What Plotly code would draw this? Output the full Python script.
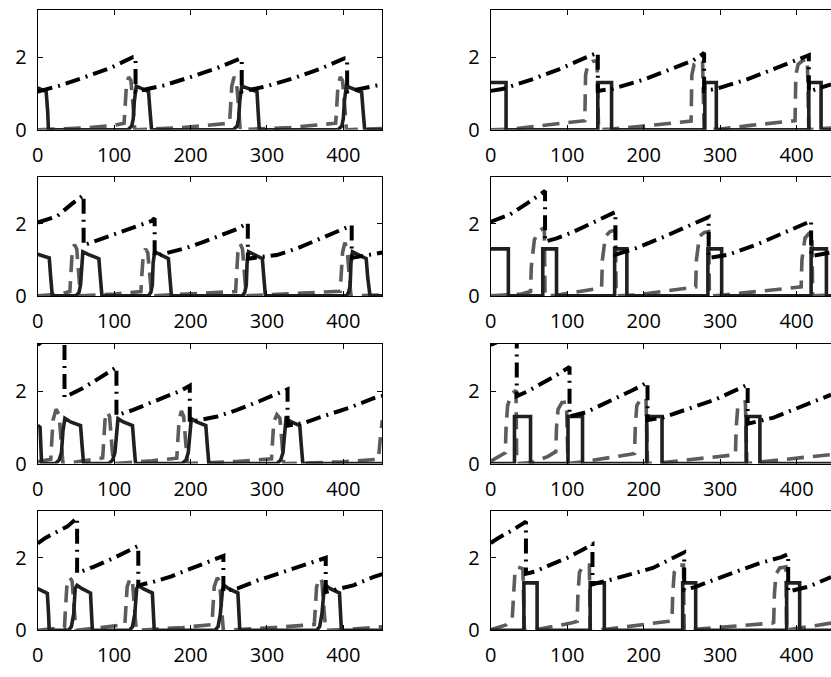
import plotly.graph_objects as go

# ---------------- data ----------------
x_ticks = [0, 100, 200, 300, 400]
y_ticks = [0, 2]

# Panel A (row 1, left)
A_dd_x = [0, 30, 62, 95, 125, 128, 128, 165, 200, 235, 264, 267, 267, 300, 335, 370, 402, 405, 405, 430, 451]
A_dd_y = [1.05, 1.22, 1.45, 1.7, 2.0, 2.0, 1.05, 1.22, 1.45, 1.7, 1.95, 1.95, 1.05, 1.2, 1.42, 1.68, 1.97, 1.97, 1.05, 1.15, 1.25]
A_gd_x = [0, 60, 100, 113, 114, 116, 119, 122, 125, 127, 190, 240, 251, 252, 254, 257, 260, 263, 265, 330, 380, 390, 391, 393, 396, 399, 402, 404, 451]
A_gd_y = [0, 0.05, 0.12, 0.18, 0.5, 1.2, 1.45, 1.35, 0.6, 0, 0.06, 0.14, 0.18, 0.5, 1.2, 1.45, 1.35, 0.6, 0, 0.06, 0.14, 0.18, 0.5, 1.2, 1.45, 1.35, 0.6, 0, 0.03]
A_sl_x = [0, 11, 13, 14, 118, 123, 125, 126.5, 129, 136, 145, 147, 149, 256, 261, 263, 264.5, 267, 275, 287, 288.5, 290, 393, 398, 400, 401.5, 404, 411, 424, 426, 428, 451]
A_sl_y = [1.15, 1.05, 0.5, 0, 0, 0.1, 0.3, 0.8, 1.2, 1.14, 1.05, 0.5, 0, 0, 0.1, 0.3, 0.8, 1.2, 1.14, 1.05, 0.5, 0, 0, 0.1, 0.3, 0.8, 1.2, 1.14, 1.03, 0.5, 0, 0]

# Panel B (row 1, right)
B_dd_x = [0, 15, 56, 90, 129, 138, 140, 140, 160, 200, 235, 264, 277, 279, 279, 296, 337, 376, 405, 414, 416, 416, 445]
B_dd_y = [1.07, 1.12, 1.40, 1.67, 2.03, 2.10, 2.12, 1.07, 1.13, 1.38, 1.65, 1.90, 2.08, 2.12, 1.07, 1.13, 1.40, 1.72, 1.95, 2.03, 2.05, 1.05, 1.25]
B_gd_x = [0, 30, 60, 100, 123, 124, 127, 133, 139, 141, 157, 200, 262, 263, 266, 272, 277, 279, 300, 340, 398, 399, 402, 408, 414, 416, 445]
B_gd_y = [0, 0.02, 0.1, 0.18, 0.25, 1.5, 1.8, 1.88, 1.9, 0, 0.02, 0.1, 0.24, 1.5, 1.8, 1.88, 1.9, 0, 0.02, 0.12, 0.25, 1.5, 1.8, 1.9, 1.95, 0, 0.05]
B_sl_x = [0, 20, 20, 140, 140, 158, 158, 280, 280, 295, 295, 416, 416, 432, 432, 445]
B_sl_y = [1.3, 1.3, 0, 0, 1.3, 1.3, 0, 0, 1.3, 1.3, 0, 0, 1.3, 1.3, 0, 0]

# Panel C (row 2, left)
C_dd_x = [0, 25, 45, 60, 60, 84, 123, 149, 153, 153, 192, 218, 261, 275, 275, 313, 339, 361, 396, 411, 411, 451]
C_dd_y = [2.03, 2.2, 2.55, 2.79, 1.40, 1.58, 1.89, 2.07, 2.15, 1.1, 1.31, 1.50, 1.85, 2.02, 1.03, 1.13, 1.31, 1.5, 1.82, 1.95, 1.05, 1.2]
C_gd_x = [0, 30, 42, 43, 45, 48, 51, 54, 56, 100, 135, 136, 138, 141, 144, 147, 149, 210, 259, 260, 262, 265, 268, 271, 273, 340, 396, 397, 399, 402, 405, 408, 410, 451]
C_gd_y = [0, 0.05, 0.12, 0.5, 1.2, 1.42, 1.3, 0.5, 0, 0.05, 0.12, 0.5, 1.1, 1.3, 1.2, 0.5, 0, 0.07, 0.12, 0.5, 1.2, 1.44, 1.3, 0.5, 0, 0.07, 0.13, 0.5, 1.2, 1.47, 1.3, 0.5, 0, 0.03]
C_sl_x = [0, 15, 17, 19, 50, 54, 56, 57.5, 59, 66, 80, 82, 84, 145, 148, 150, 151, 153, 160, 171, 173, 175,
          268, 271, 273, 274, 276, 283, 294, 296, 298, 404, 407, 409, 410, 412, 419, 430, 432, 435, 451]
C_sl_y = [1.15, 1.05, 0.5, 0, 0, 0.1, 0.3, 0.9, 1.22, 1.15, 1.03, 0.5, 0, 0, 0.1, 0.3, 0.9, 1.22, 1.15, 1.03, 0.5, 0,
          0, 0.1, 0.3, 0.9, 1.22, 1.15, 1.03, 0.5, 0, 0, 0.1, 0.3, 0.9, 1.22, 1.15, 1.03, 0.5, 0, 0]

# Panel D (row 2, right)
D_dd_x = [0, 25, 47, 71, 71, 86, 108, 147, 163, 163, 190, 225, 259, 285, 285, 311, 350, 385, 419, 419, 445]
D_dd_y = [2.05, 2.25, 2.55, 2.9, 1.5, 1.59, 1.77, 2.15, 2.32, 1.14, 1.32, 1.62, 1.93, 2.18, 1.05, 1.14, 1.44, 1.77, 2.07, 1.1, 1.2]
D_gd_x = [0, 40, 52, 53, 57, 63, 70, 71, 86, 138, 145, 146, 150, 156, 163, 164, 192, 261, 268, 269, 273, 279, 285, 286,
          302, 398, 406, 407, 411, 416, 420, 421, 445]
D_gd_y = [0, 0.05, 0.12, 0.8, 1.55, 1.8, 1.88, 0, 0.02, 0.2, 0.25, 1.0, 1.65, 1.78, 1.82, 0, 0.03, 0.23, 0.25, 1.0, 1.65, 1.75, 1.78, 0,
          0.02, 0.23, 0.25, 1.0, 1.6, 1.72, 1.78, 0, 0.02]
D_sl_x = [0, 23, 23, 68, 68, 86, 86, 162, 162, 178, 178, 284, 284, 302, 302, 419, 419, 439, 439, 445]
D_sl_y = [1.3, 1.3, 0, 0, 1.3, 1.3, 0, 0, 1.3, 1.3, 0, 0, 1.3, 1.3, 0, 0, 1.3, 1.3, 0, 0]

# Panel E (row 3, left)
E_dd_x = [0, 35, 35, 58, 80, 103, 103, 125, 149, 186, 199, 199, 235, 261, 290, 327, 327, 348, 370, 409, 439, 451]
E_dd_y = [3.27, 3.9, 1.83, 2.07, 2.35, 2.66, 1.33, 1.48, 1.69, 2.0, 2.15, 1.15, 1.3, 1.48, 1.72, 2.05, 1.05, 1.12, 1.28, 1.55, 1.8, 1.87]
E_gd_x = [0, 15, 17, 18, 20, 24, 28, 31, 33, 75, 85, 86, 88, 91, 94, 97, 99, 150, 182, 183, 185, 188, 191, 194, 196,
          260, 306, 307, 309, 313, 317, 320, 322, 400, 446, 448, 451]
E_gd_y = [0.05, 0.1, 0.12, 0.5, 1.2, 1.5, 1.35, 0.5, 0, 0.12, 0.16, 0.5, 1.2, 1.43, 1.3, 0.5, 0, 0.08, 0.15, 0.5, 1.2, 1.45, 1.3, 0.5, 0,
          0.06, 0.13, 0.5, 1.15, 1.35, 1.25, 0.5, 0, 0.05, 0.12, 0.6, 1.2]
E_sl_x = [0, 3, 5, 23, 28, 31, 33, 35.5, 43, 56, 58, 60, 93, 98, 101, 103, 105, 112, 124, 126, 128,
          189, 194, 197, 199, 201, 208, 220, 222, 224, 313, 318, 321, 323, 325, 332, 343, 345, 347, 451]
E_sl_y = [1.06, 1.0, 0, 0, 0.1, 0.3, 0.9, 1.25, 1.15, 1.05, 0.5, 0, 0, 0.1, 0.3, 0.9, 1.24, 1.15, 1.05, 0.5, 0,
          0, 0.1, 0.3, 0.9, 1.24, 1.15, 1.05, 0.5, 0, 0, 0.1, 0.3, 0.9, 1.24, 1.15, 1.05, 0.5, 0, 0]

# Panel F (row 3, right)
F_dd_x = [0, 34, 34, 49, 64, 83, 101, 103, 103, 125, 147, 173, 186, 205, 205, 225, 250, 294, 324, 336, 336, 370, 389, 411, 445]
F_dd_y = [3.27, 3.6, 1.86, 2.0, 2.18, 2.4, 2.64, 2.67, 1.3, 1.42, 1.64, 1.88, 2.03, 2.24, 1.2, 1.27, 1.45, 1.77, 2.06, 2.18, 1.1, 1.27, 1.43, 1.61, 1.9]
F_gd_x = [0, 15, 19, 20, 22, 27, 33, 34, 54, 75, 85, 86, 88, 93, 99, 101, 120, 181, 188, 189, 191, 196, 203, 205,
          225, 318, 320, 321, 323, 328, 333, 335, 355, 445]
F_gd_y = [0.07, 0.25, 0.3, 1.0, 1.6, 1.92, 2.02, 0, 0.03, 0.2, 0.33, 1.0, 1.5, 1.68, 1.7, 0, 0.05, 0.25, 0.28, 1.0, 1.6, 1.78, 1.8, 0,
          0.03, 0.24, 0.26, 1.0, 1.55, 1.68, 1.7, 0, 0.05, 0.25]
F_sl_x = [0, 31, 31, 52, 52, 101, 101, 120, 120, 204, 204, 224, 224, 334, 334, 352, 352, 445]
F_sl_y = [0, 0, 1.3, 1.3, 0, 0, 1.3, 1.3, 0, 0, 1.3, 1.3, 0, 0, 1.3, 1.3, 0, 0]

# Panel G (row 4, left)
G_dd_x = [0, 10, 28, 38.5, 51.5, 51.5, 73, 100, 131.6, 131.6, 150, 175, 194, 220, 243, 243, 261, 287, 339, 368, 377, 377, 413, 439, 451]
G_dd_y = [2.4, 2.55, 2.75, 2.86, 3.1, 1.58, 1.75, 2.0, 2.33, 1.24, 1.33, 1.49, 1.65, 1.87, 2.05, 1.08, 1.15, 1.37, 1.74, 1.96, 2.0, 1.06, 1.24, 1.47, 1.55]
G_gd_x = [0, 30, 35, 36, 38, 42, 45, 48, 50, 80, 114, 115, 117, 121, 124, 127, 129, 190, 228, 229, 231, 235, 238, 241, 243,
          310, 362, 363, 365, 369, 372, 375, 377, 410, 451]
G_gd_y = [0, 0.05, 0.08, 0.5, 1.2, 1.46, 1.35, 0.5, 0, 0.07, 0.16, 0.5, 1.2, 1.44, 1.35, 0.5, 0, 0.08, 0.16, 0.5, 1.2, 1.45, 1.35, 0.5, 0,
          0.08, 0.16, 0.5, 1.2, 1.45, 1.35, 0.5, 0, 0.03, 0.1]
G_sl_x = [0, 12.5, 14, 15, 40, 44, 47, 49, 51.5, 58, 69, 70.5, 71.5, 120, 124, 127, 129.5, 131.6, 138, 150, 151.5, 152.5,
          232, 236, 239, 242, 244, 250, 262, 263.5, 264.5, 365, 369, 372, 375, 377, 383, 395, 396.5, 397.5, 451]
G_sl_y = [1.15, 1.02, 0.5, 0, 0, 0.1, 0.45, 1.15, 1.24, 1.15, 1.03, 0.5, 0, 0, 0.1, 0.45, 1.15, 1.24, 1.15, 1.03, 0.5, 0,
          0, 0.1, 0.45, 1.15, 1.24, 1.15, 1.03, 0.5, 0, 0, 0.1, 0.45, 1.15, 1.24, 1.15, 1.03, 0.5, 0, 0]

# Panel H (row 4, right)
H_dd_x = [0, 10, 29, 37, 46, 46, 58, 75, 100, 133, 133, 161, 187, 212, 250, 253, 253, 268, 290, 350, 380, 389, 389, 415, 445]
H_dd_y = [2.41, 2.55, 2.77, 2.88, 3.0, 1.56, 1.62, 1.78, 2.0, 2.37, 1.27, 1.42, 1.56, 1.72, 2.12, 2.15, 1.12, 1.2, 1.38, 1.84, 2.02, 2.1, 1.07, 1.2, 1.47]
H_gd_x = [0, 20, 28, 30, 31.5, 35, 42, 44, 62, 105, 113, 114, 116, 121, 129, 130, 151, 233, 237, 238, 240, 245, 252, 253,
          268, 368, 370, 371, 373, 378, 386, 387, 391, 445]
H_gd_y = [0.02, 0.15, 0.3, 1.0, 1.56, 1.75, 1.7, 0, 0.03, 0.2, 0.25, 1.0, 1.6, 1.8, 1.8, 0, 0.03, 0.25, 0.27, 1.0, 1.6, 1.8, 1.8, 0,
          0.03, 0.2, 0.22, 1.0, 1.55, 1.72, 1.75, 0, 0.02, 0.2]
H_sl_x = [0, 43.3, 43.3, 60.6, 60.6, 130, 130, 148.5, 148.5, 251, 251, 268, 268, 387, 387, 404, 404, 445]
H_sl_y = [0, 0, 1.31, 1.31, 0, 0, 1.31, 1.31, 0, 0, 1.31, 1.31, 0, 0, 1.31, 1.31, 0, 0]

panels = [
    (A_dd_x, A_dd_y, A_gd_x, A_gd_y, A_sl_x, A_sl_y),
    (B_dd_x, B_dd_y, B_gd_x, B_gd_y, B_sl_x, B_sl_y),
    (C_dd_x, C_dd_y, C_gd_x, C_gd_y, C_sl_x, C_sl_y),
    (D_dd_x, D_dd_y, D_gd_x, D_gd_y, D_sl_x, D_sl_y),
    (E_dd_x, E_dd_y, E_gd_x, E_gd_y, E_sl_x, E_sl_y),
    (F_dd_x, F_dd_y, F_gd_x, F_gd_y, F_sl_x, F_sl_y),
    (G_dd_x, G_dd_y, G_gd_x, G_gd_y, G_sl_x, G_sl_y),
    (H_dd_x, H_dd_y, H_gd_x, H_gd_y, H_sl_x, H_sl_y),
]

# ---------------- layout geometry ----------------
W, H = 831, 677
COLS_PX = [(32.0, 379.0), (488.3, 831.0)]
X_MAX = [451, 445]
ROWS_PX = [(10.0, 132.3), (180.0, 301.7), (350.7, 472.7), (520.7, 642.7)]
Y_MAX = 3.3

FONT = dict(family="Open Sans, Noto Sans, sans-serif", size=20, color="black")

fig = go.Figure()
layout = dict(
    width=W, height=H,
    margin=dict(l=0, r=0, t=0, b=0),
    paper_bgcolor="white", plot_bgcolor="white",
    showlegend=False,
)

for i, (ddx, ddy, gdx, gdy, slx, sly) in enumerate(panels):
    row, col = divmod(i, 2)
    n = i + 1
    xa = "x" if n == 1 else f"x{n}"
    ya = "y" if n == 1 else f"y{n}"
    fig.add_trace(go.Scatter(x=gdx, y=gdy, mode="lines", xaxis=xa, yaxis=ya,
                             line=dict(color="#5c5c5c", width=3.6, dash="17px,9px")))
    fig.add_trace(go.Scatter(x=slx, y=sly, mode="lines", xaxis=xa, yaxis=ya,
                             line=dict(color="#202020", width=3.6)))
    fig.add_trace(go.Scatter(x=ddx, y=ddy, mode="lines", xaxis=xa, yaxis=ya,
                             line=dict(color="black", width=4, dash="15px,6px,2px,6px")))

    x0, x1 = COLS_PX[col]
    ytop, ybot = ROWS_PX[row]
    xdom = [x0 / W, min(x1 / W, 1.0)]
    ydom = [1 - ybot / H, 1 - ytop / H]
    xkey = "xaxis" if n == 1 else f"xaxis{n}"
    ykey = "yaxis" if n == 1 else f"yaxis{n}"
    layout[xkey] = dict(
        domain=xdom, anchor=ya, range=[0, X_MAX[col]],
        tickvals=x_ticks, ticktext=[str(v) for v in x_ticks],
        ticks="inside", ticklen=5, tickwidth=1, tickcolor="black",
        showline=True, linecolor="black", linewidth=1, mirror="allticks",
        showgrid=False, zeroline=False, tickfont=FONT, ticklabelstandoff=7,
    )
    layout[ykey] = dict(
        domain=ydom, anchor=xa, range=[0, Y_MAX],
        tickvals=y_ticks, ticktext=[str(v) for v in y_ticks],
        ticks="inside", ticklen=5, tickwidth=1, tickcolor="black",
        showline=True, linecolor="black", linewidth=1,
        mirror="allticks" if col == 0 else False,
        showgrid=False, zeroline=False, tickfont=FONT, ticklabelstandoff=6,
    )

fig.update_layout(**layout)
fig.write_html("out.html")
